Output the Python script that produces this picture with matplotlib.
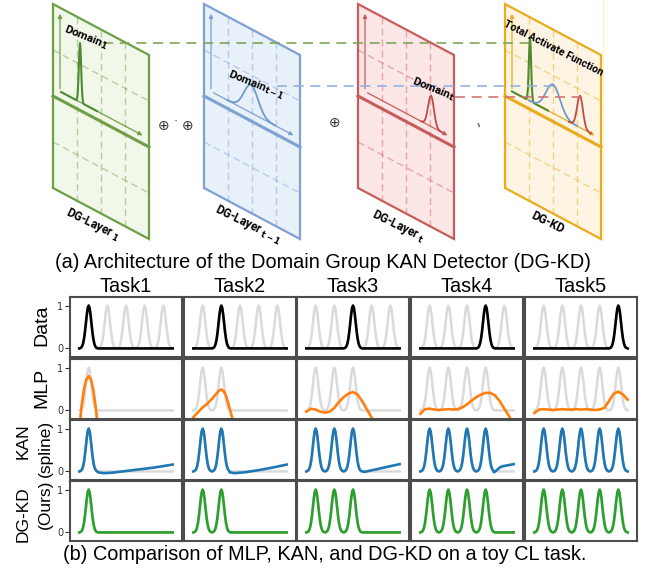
import matplotlib
matplotlib.use("Agg")
import matplotlib.pyplot as plt
from matplotlib.patches import Polygon

# ---------------- data ----------------
tasks = ["Task1", "Task2", "Task3", "Task4", "Task5"]
peak_centers = [-0.8, -0.4, 0.0, 0.4, 0.8]

# one gaussian bump (offset from centre, height)
bump_dx = [-0.20, -0.18, -0.16, -0.14, -0.12, -0.10, -0.08, -0.06, -0.04, -0.02, 0.0,
           0.02, 0.04, 0.06, 0.08, 0.10, 0.12, 0.14, 0.16, 0.18, 0.20]
bump_y = [0.0, 0.008, 0.021, 0.053, 0.115, 0.223, 0.383, 0.583, 0.787, 0.942, 1.0,
          0.942, 0.787, 0.583, 0.383, 0.223, 0.115, 0.053, 0.021, 0.008, 0.0]

# MLP fits after each task
mlp_x = [
    [-1.0, -0.95, -0.9, -0.85, -0.8, -0.75, -0.7, -0.65, -0.6, -0.55],
    [-1.0, -0.9, -0.8, -0.7, -0.6, -0.5, -0.45, -0.4, -0.35, -0.3, -0.25, -0.2, -0.15, -0.1],
    [-1.0, -0.9, -0.8, -0.7, -0.6, -0.5, -0.4, -0.3, -0.2, -0.1, 0.0, 0.1, 0.2, 0.3, 0.4, 0.5],
    [-1.0, -0.9, -0.8, -0.7, -0.6, -0.5, -0.4, -0.3, -0.2, -0.1, 0.0,
     0.1, 0.2, 0.3, 0.4, 0.5, 0.6, 0.7, 0.8, 0.9, 1.0],
    [-1.0, -0.9, -0.8, -0.7, -0.6, -0.5, -0.4, -0.3, -0.2, -0.1, 0.0,
     0.1, 0.2, 0.3, 0.4, 0.5, 0.6, 0.7, 0.8, 0.9, 1.0],
]
mlp_y = [
    [-0.42, 0.12, 0.5, 0.72, 0.80, 0.72, 0.48, 0.08, -0.42, -1.0],
    [-0.16, -0.04, 0.07, 0.16, 0.27, 0.40, 0.46, 0.49, 0.45, 0.34, 0.16, -0.04, -0.24, -0.45],
    [-0.03, 0.04, 0.02, -0.03, -0.05, -0.03, 0.06, 0.20, 0.31, 0.39, 0.43, 0.37, 0.21, 0.02, -0.17, -0.45],
    [-0.08, 0.03, 0.04, 0.02, 0.01, 0.02, 0.03, 0.02, 0.03, 0.07, 0.14,
     0.23, 0.31, 0.37, 0.41, 0.41, 0.35, 0.22, 0.04, -0.13, -0.35],
    [-0.06, 0.02, 0.03, 0.02, 0.01, 0.02, 0.03, 0.02, 0.02, 0.03, 0.02,
     0.03, 0.02, 0.01, 0.02, 0.06, 0.22, 0.39, 0.44, 0.37, 0.25],
]

# KAN (spline) tails after the last learned peak
kan_tail_x = [
    [-0.60, -0.48, -0.3, 0.0, 0.3, 0.6, 1.0],
    [-0.22, -0.12, 0.1, 0.4, 0.7, 1.0],
    [0.19, 0.25, 0.5, 0.75, 1.0],
    [0.58, 0.63, 0.70, 0.76, 1.0],
    [1.0],
]
kan_tail_y = [
    [-0.02, -0.04, -0.03, 0.01, 0.05, 0.09, 0.16],
    [-0.02, -0.04, -0.02, 0.03, 0.09, 0.16],
    [0.0, -0.01, 0.05, 0.11, 0.17],
    [-0.02, 0.02, 0.09, 0.12, 0.17],
    [0.0],
]

row_colors = ["black", "#ff7f0e", "#1f77b4", "#2ca02c"]


def peaks_line(centers):
    xs, ys = [-1.0], [0.0]
    for c in centers:
        xs += [c + d for d in bump_dx]
        ys += bump_y
    xs.append(1.0)
    ys.append(0.0)
    return xs, ys


def kan_line(t):
    xs, ys = [-1.0], [0.0]
    for i, c in enumerate(peak_centers[:t + 1]):
        n = 19 if i == t else len(bump_dx)
        xs += [c + d for d in bump_dx[:n]]
        ys += bump_y[:n]
    xs += kan_tail_x[t]
    ys += kan_tail_y[t]
    return xs, ys


W, H = 647, 572
fig = plt.figure(figsize=(W / 100, H / 100), dpi=100)

# ---------------- (a) architecture sketch ----------------
d = fig.add_axes([0, 0, 1, 1])
d.set_xlim(0, W)
d.set_ylim(H, 0)
d.axis("off")

SL = 51 / 96  # slope of the sheets
layers = [
    (53, "#f1f8ea", "#6e9e48"),
    (204, "#e8f0fa", "#7fa0d3"),
    (358, "#fce6e6", "#c85c5c"),
    (505, "#fef4e3", "#e8ac1c"),
]


def base(L, x):
    return 92 + SL * (x - L - 8)


def sheet(L, face, edge):
    d.add_patch(Polygon([(L, 4), (L + 96, 55), (L + 96, 239), (L, 188)],
                        closed=True, fc=face, ec=edge, lw=1.6, zorder=1))
    d.plot([L, L + 96], [96, 147], color=edge, lw=2.2, zorder=2)
    for k in (24, 48, 72):
        d.plot([L + k, L + k], [4 + SL * k, 188 + SL * k], color=edge, alpha=0.45,
               lw=1.0, ls=(0, (5, 3)), zorder=2)
    for y0 in (50, 142):
        d.plot([L, L + 96], [y0, y0 + 51], color=edge, alpha=0.45,
               lw=1.0, ls=(0, (5, 3)), zorder=2)
    # little axes
    d.annotate("", xy=(L + 7, 11), xytext=(L + 7, base(L, L + 7)),
               arrowprops=dict(arrowstyle="-|>", color=edge, lw=0.9,
                               mutation_scale=6), zorder=3)
    d.annotate("", xy=(L + 92, base(L, L + 92)), xytext=(L + 7, base(L, L + 7)),
               arrowprops=dict(arrowstyle="-|>", color=edge, lw=0.9,
                               mutation_scale=6), zorder=3)


def bump_curve(L, x0, xc, x1, h, scale, color, lw=1.3):
    xs = [x0] + [xc + dx * scale for dx in bump_dx] + [x1]
    ys = [base(L, x0)] + [base(L, xc + dx * scale) - h * b for dx, b in
                          zip(bump_dx, bump_y)] + [base(L, x1)]
    d.plot(xs, ys, color=color, lw=lw, zorder=4)


for L, face, edge in layers:
    sheet(L, face, edge)

g_col, b_col, r_col = "#4f8a2f", "#7199cc", "#c24a4a"
Lg, Lb, Lr, Ly = [l[0] for l in layers]
bump_curve(Lg, Lg + 8, Lg + 27, Lg + 44, 59, 20, g_col, lw=1.5)
bump_curve(Lb, Lb + 23, Lb + 47, Lb + 71, 28, 120, b_col)
bump_curve(Lr, Lr + 63, Lr + 73, Lr + 84, 31, 50, r_col)
bump_curve(Ly, Ly + 7, Ly + 25, Ly + 43, 62, 20, g_col, lw=1.5)
bump_curve(Ly, Ly + 24, Ly + 48, Ly + 72, 29, 120, b_col)
bump_curve(Ly, Ly + 64, Ly + 75, Ly + 86, 32, 50, r_col)

# dashed links into the total function
d.plot([103, 529], [43, 43], color="#7ea55a", lw=1.2, ls=(0, (6, 4)), zorder=5)
d.plot([277, 553], [86, 86], color="#93b2e0", lw=1.2, ls=(0, (6, 4)), zorder=5)
d.plot([455, 580], [97, 97], color="#d27575", lw=1.2, ls=(0, (6, 4)), zorder=5)
d.plot([603, 603], [0, 240], color="#fff3c4", lw=1.0, zorder=0)

tk = dict(fontweight="bold", ha="center", va="center",
          rotation_mode="anchor", family=["Roboto", "DejaVu Sans"], zorder=6)
d.text(86, 37, r"Domain$_\mathbf{1}$", rotation=-22, fontsize=8.2, **tk)
d.text(256, 85, r"Domain$_\mathbf{t-1}$", rotation=-22, fontsize=8.2, **tk)
d.text(433, 89, r"Domain$_\mathbf{t}$", rotation=-22, fontsize=8.2, **tk)
d.text(553, 48, "Total Activate Function", rotation=-27, fontsize=7.6, **tk)
d.text(93, 225, r"DG-Layer$_{\ \mathbf{1}}$", rotation=-26, fontsize=8.4, **tk)
d.text(248, 225, r"DG-Layer$_{\ \mathbf{t-1}}$", rotation=-26, fontsize=8.4, **tk)
d.text(398, 226, r"DG-Layer$_{\ \mathbf{t}}$", rotation=-26, fontsize=8.4, **tk)
d.text(548, 223, "DG-KD", rotation=-26, fontsize=8.4, **tk)

op = dict(ha="center", va="center", fontsize=10, color="#333333", family="DejaVu Sans")
d.text(164, 126, "\u2295", **op)
d.text(188, 126, "\u2295", **op)
d.text(335, 123, "\u2295", **op)
d.text(176, 121, "\u00b7\u00b7", ha="center", va="center", fontsize=5, color="#333333")
d.text(477, 124, "=", ha="center", va="center", fontsize=5, rotation=-70, color="#333333")

cap = dict(ha="center", va="center", fontsize=14.3, family="Liberation Sans")
d.text(323, 262, "(a) Architecture of the Domain Group KAN Detector (DG-KD)", **cap)
d.text(325, 555, "(b) Comparison of MLP, KAN, and DG-KD on a toy CL task.", **cap)

# ---------------- (b) toy continual-learning grid ----------------
col_left = [70, 184, 297, 411, 525]
row_top = [297, 359, 420, 481]
pw, ph = 112, 60
gray = "#dadada"

for r in range(4):
    for t in range(5):
        ax = fig.add_axes([col_left[t] / W, 1 - (row_top[r] + ph) / H, pw / W, ph / H])
        if r == 0:
            gx, gy = peaks_line(peak_centers)
            cx, cy = peaks_line([peak_centers[t]])
        else:
            gx, gy = peaks_line(peak_centers[:t + 1])
            if r == 1:
                cx, cy = mlp_x[t], mlp_y[t]
            elif r == 2:
                cx, cy = kan_line(t)
            else:
                cx, cy = peaks_line(peak_centers[:t + 1])
        ax.plot(gx, gy, color=gray, lw=1.8)
        ax.plot(cx, cy, color=row_colors[r], lw=1.9)
        ax.set_xlim(-1.2, 1.2)
        ax.set_ylim(-0.2, 1.2)
        ax.set_xticks([])
        if t == 0:
            ax.set_yticks([0, 1])
            ax.tick_params(axis="y", labelsize=7, length=3.5, width=0.8,
                           colors="#333333", pad=1.5)
        else:
            ax.set_yticks([])
        for s in ax.spines.values():
            s.set_color("#4d4d4d")
            s.set_linewidth(1.5)
        if r == 0:
            ax.text(0.5, 1.02, tasks[t], transform=ax.transAxes, ha="center",
                    va="bottom", fontsize=14.3, family="Liberation Sans")

lab = dict(rotation=90, ha="center", va="center", family="Liberation Sans")
d.text(42, 325, "Data", fontsize=14, **lab)
d.text(42, 388, "MLP", fontsize=14, **lab)
d.text(23, 441, "KAN", fontsize=12.5, **lab)
d.text(45, 448, "(spline)", fontsize=12.5, **lab)
d.text(23, 514, "DG-KD", fontsize=12.5, **lab)
d.text(45, 504, "(Ours)", fontsize=12.5, **lab)

fig.savefig("out.png", dpi=100)
